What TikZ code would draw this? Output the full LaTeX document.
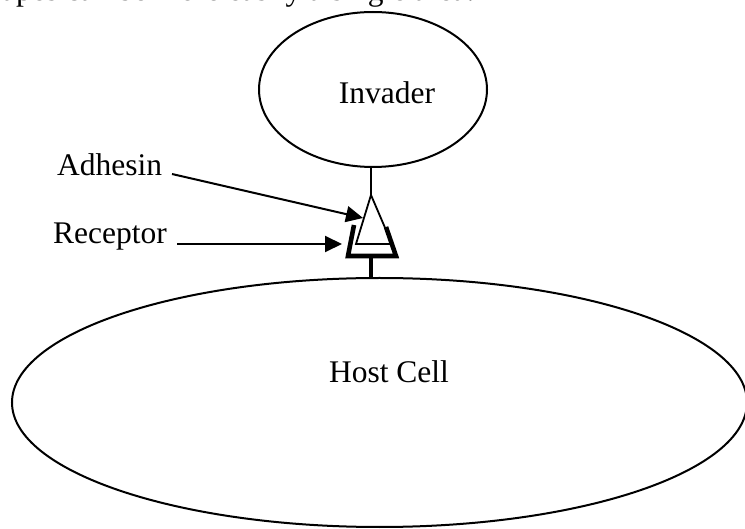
\documentclass[tikz,border=0pt]{standalone}
\usepackage{fontspec}
\setmainfont{Liberation Serif}
\usetikzlibrary{arrows.meta,shapes.geometric}
\begin{document}
\begin{tikzpicture}[x=1pt,y=-1pt,
  cell/.style={draw,ellipse,line width=2pt,inner sep=0pt},
  lbl/.style={inner sep=0pt,font=\fontsize{31.5}{36}\selectfont},
  pointer/.style={line width=2pt,-{Triangle[length=17pt,width=16pt]}},
  adhline/.style={line width=1.8pt,line join=miter},
  recline/.style={line width=4.6pt,line join=miter}]
\useasboundingbox (0,0) rectangle (745,529);
\clip (0,0) rectangle (745,529);
% cropped text line at the very top
\node[lbl,anchor=base west] (topline) at (-26,1) {shapes can be more easily a single area.};
% cells
\node[cell,minimum width=228pt,minimum height=155pt] (invader) at (373,89.5) {};
\node[cell,minimum width=735pt,minimum height=249pt] (host) at (379.5,402.5) {};
\node[lbl,anchor=base] (invtext) at (387,104) {Invader};
\node[lbl,anchor=base] (hosttext) at (389,383) {Host Cell};
% adhesin
\coordinate (apex) at (371,195);
\coordinate (tbl) at (356,244);
\coordinate (tbr) at (392,244);
\draw[line width=1.6pt] (apex |- invader.south) -- (apex);
\draw[adhline] (apex) -- (tbl) -- (tbr) -- cycle;
% receptor
\coordinate (rlt) at (354,225);
\coordinate (rlb) at (348,256);
\coordinate (rrb) at (396,256);
\coordinate (rrt) at (386,227);
\coordinate (rstem) at (371,256);
\draw[recline] (rlt) -- (rlb) -- (rrb) -- (rrt);
\draw[recline] (rstem) -- (rstem |- host.north);
% labels and pointers
\node[lbl,anchor=base west] (adh) at (57,176) {Adhesin};
\node[lbl,anchor=base west] (rec) at (53,244) {Receptor};
\coordinate (adhstart) at (172,174);
\coordinate (adhtip) at (363,218);
\coordinate (recstart) at (177,244);
\coordinate (rectip) at (342,244);
\draw[pointer] (adhstart) -- (adhtip);
\draw[pointer] (recstart) -- (rectip);
\end{tikzpicture}
\end{document}
